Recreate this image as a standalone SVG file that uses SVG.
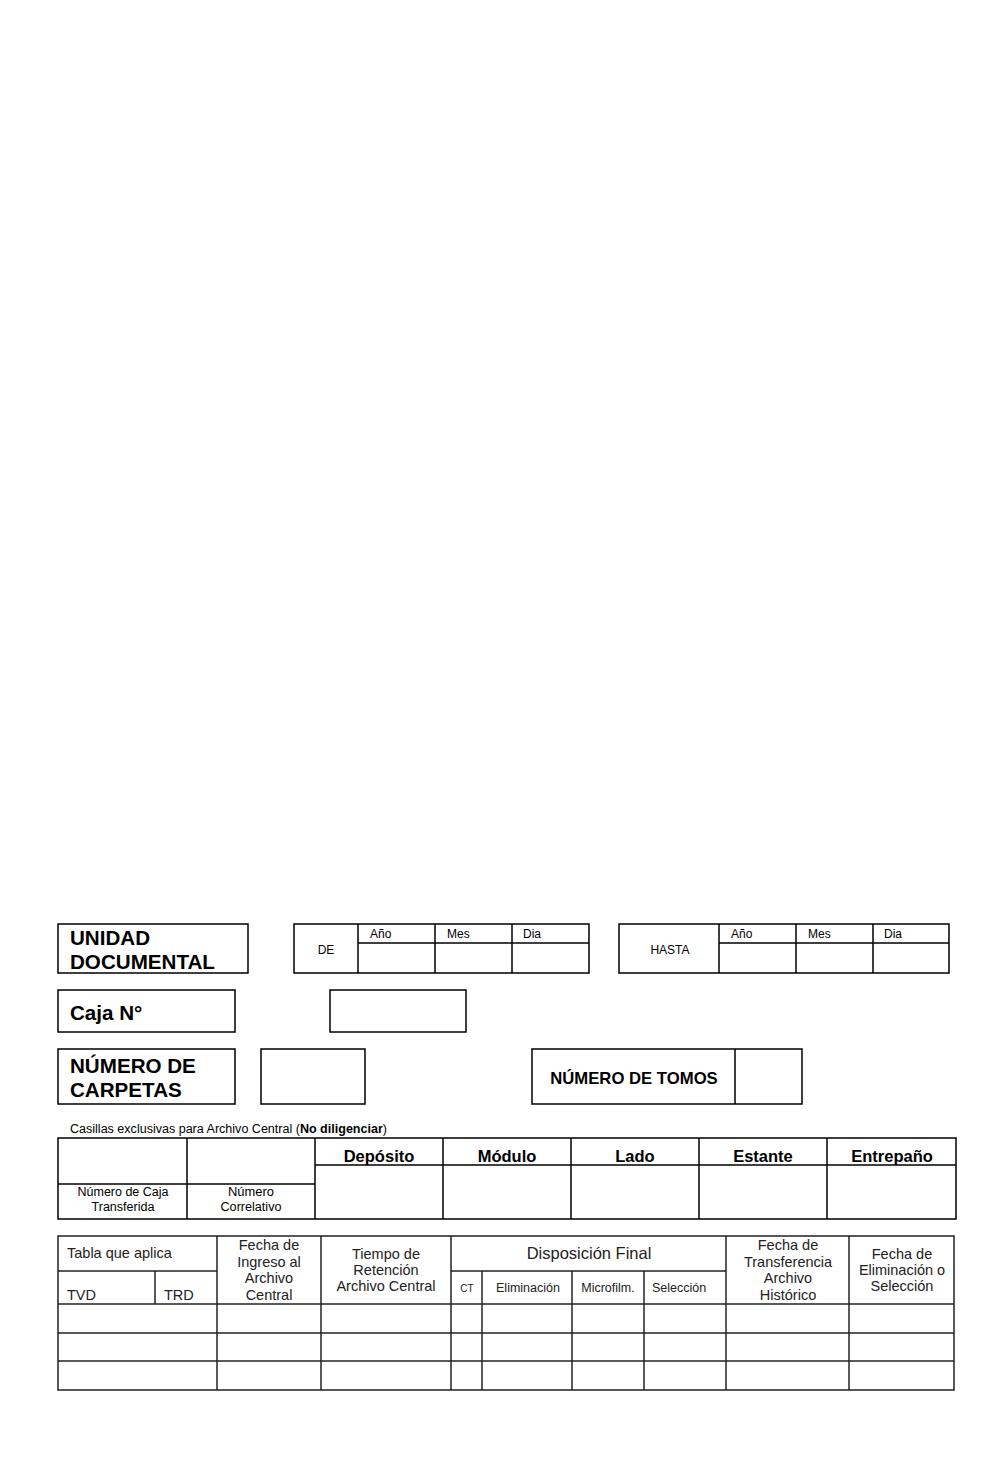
<svg xmlns="http://www.w3.org/2000/svg" width="1006" height="1479" viewBox="0 0 1006 1479">
<style>
.b{fill:none;stroke:#000;stroke-width:1.5}
.l{stroke:#000;stroke-width:1.5}
.g{stroke:#222;stroke-width:1.5}
.gb{fill:none;stroke:#222;stroke-width:1.5}
text{font-family:"Liberation Sans",Arial,sans-serif;fill:#000}
.h{font-weight:bold;font-size:20.6px}
.s{font-size:12px}
.c{text-anchor:middle}
.hb{font-weight:bold;font-size:16.5px;text-anchor:middle}
.t{font-size:14.5px;fill:#222}
</style>
<rect width="1006" height="1479" fill="#fff"/>

<g id="unidad-documental">
<rect class="b" x="58" y="924" width="190" height="49"/>
<text class="h" x="70" y="945">UNIDAD</text>
<text class="h" x="70" y="969">DOCUMENTAL</text>
</g>

<g id="fecha-de">
<rect class="b" x="294" y="924" width="295" height="49"/>
<line class="l" x1="358" y1="924" x2="358" y2="973"/>
<line class="l" x1="435" y1="924" x2="435" y2="973"/>
<line class="l" x1="512" y1="924" x2="512" y2="973"/>
<line class="l" x1="358" y1="943" x2="589" y2="943"/>
<text class="s c" x="326" y="954">DE</text>
<text class="s" x="370" y="938">Año</text>
<text class="s" x="447" y="938">Mes</text>
<text class="s" x="523" y="938">Dia</text>
</g>

<g id="fecha-hasta">
<rect class="b" x="619" y="924" width="330" height="49"/>
<line class="l" x1="719" y1="924" x2="719" y2="973"/>
<line class="l" x1="796" y1="924" x2="796" y2="973"/>
<line class="l" x1="873" y1="924" x2="873" y2="973"/>
<line class="l" x1="719" y1="943" x2="949" y2="943"/>
<text class="s c" x="670" y="954">HASTA</text>
<text class="s" x="731" y="938">Año</text>
<text class="s" x="808" y="938">Mes</text>
<text class="s" x="884" y="938">Dia</text>
</g>

<g id="caja">
<rect class="b" x="58" y="990" width="177" height="42"/>
<text class="h" x="70" y="1020">Caja N°</text>
</g>
<g id="caja-valor">
<rect class="b" x="330" y="990" width="136" height="42"/>
</g>

<g id="numero-carpetas">
<rect class="b" x="58" y="1049" width="177" height="55"/>
<text class="h" x="70" y="1073">NÚMERO DE</text>
<text class="h" x="70" y="1097">CARPETAS</text>
</g>
<g id="carpetas-valor">
<rect class="b" x="261" y="1049" width="104" height="55"/>
</g>

<g id="numero-tomos">
<rect class="b" x="532" y="1049" width="270" height="55"/>
<line class="l" x1="735" y1="1049" x2="735" y2="1104"/>
<text x="634" y="1084" style="font-weight:bold;font-size:16.7px;text-anchor:middle">NÚMERO DE TOMOS</text>
</g>

<g id="archivo-central">
<text x="70" y="1133" style="font-size:12.5px" textLength="317" lengthAdjust="spacingAndGlyphs">Casillas exclusivas para Archivo Central (<tspan font-weight="bold">No diligenciar</tspan>)</text>
<rect class="b" x="58" y="1138" width="898" height="81"/>
<line class="l" x1="187" y1="1138" x2="187" y2="1219"/>
<line class="l" x1="315" y1="1138" x2="315" y2="1219"/>
<line class="l" x1="443" y1="1138" x2="443" y2="1219"/>
<line class="l" x1="571" y1="1138" x2="571" y2="1219"/>
<line class="l" x1="699" y1="1138" x2="699" y2="1219"/>
<line class="l" x1="827" y1="1138" x2="827" y2="1219"/>
<line class="l" x1="315" y1="1165" x2="956" y2="1165"/>
<line class="l" x1="58" y1="1184" x2="315" y2="1184"/>
<text class="hb" x="379" y="1162">Depósito</text>
<text class="hb" x="507" y="1162">Módulo</text>
<text class="hb" x="635" y="1162">Lado</text>
<text class="hb" x="763" y="1162">Estante</text>
<text class="hb" x="892" y="1162">Entrepaño</text>
<text x="123" y="1196" style="font-size:12.5px;text-anchor:middle" textLength="91" lengthAdjust="spacingAndGlyphs">Número de Caja</text>
<text x="123" y="1211" style="font-size:12.5px;text-anchor:middle" textLength="63" lengthAdjust="spacingAndGlyphs">Transferida</text>
<text x="251" y="1196" style="font-size:12.5px;text-anchor:middle" textLength="46" lengthAdjust="spacingAndGlyphs">Número</text>
<text x="251" y="1211" style="font-size:12.5px;text-anchor:middle" textLength="61" lengthAdjust="spacingAndGlyphs">Correlativo</text>
</g>

<g id="tabla-retencion">
<rect class="gb" x="58" y="1236" width="896" height="154"/>
<line class="g" x1="217" y1="1236" x2="217" y2="1390"/>
<line class="g" x1="321" y1="1236" x2="321" y2="1390"/>
<line class="g" x1="451" y1="1236" x2="451" y2="1390"/>
<line class="g" x1="482" y1="1271" x2="482" y2="1390"/>
<line class="g" x1="572" y1="1271" x2="572" y2="1390"/>
<line class="g" x1="644" y1="1271" x2="644" y2="1390"/>
<line class="g" x1="726" y1="1236" x2="726" y2="1390"/>
<line class="g" x1="849" y1="1236" x2="849" y2="1390"/>
<line class="g" x1="155" y1="1271" x2="155" y2="1304"/>
<line class="g" x1="58" y1="1271" x2="217" y2="1271"/>
<line class="g" x1="451" y1="1271" x2="726" y2="1271"/>
<line class="g" x1="58" y1="1304" x2="954" y2="1304"/>
<line class="g" x1="58" y1="1333" x2="954" y2="1333"/>
<line class="g" x1="58" y1="1361" x2="954" y2="1361"/>
<text class="t" x="67" y="1258">Tabla que aplica</text>
<text class="t" x="67" y="1300">TVD</text>
<text class="t" x="164" y="1300">TRD</text>
<text class="t c" x="269" y="1250">Fecha de</text>
<text class="t c" x="269" y="1267">Ingreso al</text>
<text class="t c" x="269" y="1283">Archivo</text>
<text class="t c" x="269" y="1300">Central</text>
<text class="t c" x="386" y="1259">Tiempo de</text>
<text class="t c" x="386" y="1275">Retención</text>
<text class="t c" x="386" y="1291">Archivo Central</text>
<text class="t c" x="589" y="1259" style="font-size:16.5px">Disposición Final</text>
<text class="t c" x="467" y="1292" style="font-size:10px">CT</text>
<text class="t c" x="528" y="1292" style="font-size:12.5px">Eliminación</text>
<text class="t c" x="608" y="1292" style="font-size:12.5px">Microfilm.</text>
<text class="t c" x="679" y="1292" style="font-size:12.5px">Selección</text>
<text class="t c" x="788" y="1250">Fecha de</text>
<text class="t c" x="788" y="1267">Transferencia</text>
<text class="t c" x="788" y="1283">Archivo</text>
<text class="t c" x="788" y="1300">Histórico</text>
<text class="t c" x="902" y="1259">Fecha de</text>
<text class="t c" x="902" y="1275">Eliminación o</text>
<text class="t c" x="902" y="1291">Selección</text>
</g>
</svg>
